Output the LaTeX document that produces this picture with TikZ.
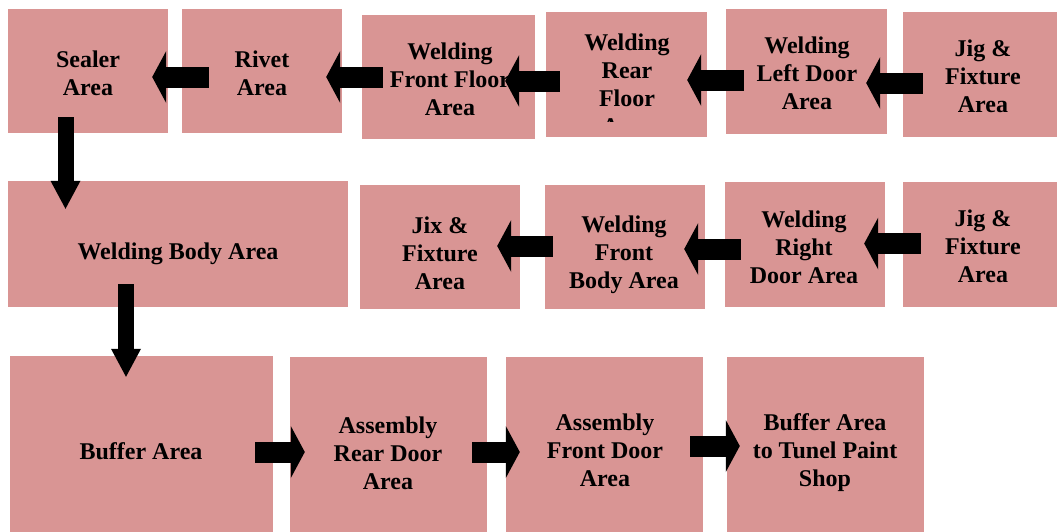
\documentclass[tikz,border=0pt]{standalone}
\usepackage{fontspec}
\setmainfont{Liberation Serif}
\usetikzlibrary{arrows.meta,calc}
\definecolor{boxc}{HTML}{D99594}
\tikzset{
  box/.style={rectangle, fill=boxc, draw=none, inner sep=0pt},
  txt/.style={align=center, inner sep=0pt, font=\fontsize{24}{28}\selectfont\bfseries,
              execute at begin node=\strut, execute at end node=\strut},
  harrow/.style={draw=black, line width=21pt, line cap=butt,
                 -{Triangle[length=14pt,width=52pt,line width=0pt]}},
  varrow/.style={draw=black, line width=16pt, line cap=butt,
                 -{Triangle[length=28pt,width=30pt,line width=0pt]}}
}
\begin{document}
\begin{tikzpicture}[x=1pt,y=-1pt]
\useasboundingbox (0,0) rectangle (1057,531);
% row 1
\node[box, minimum width=160pt, minimum height=124pt] (sealer) at (88,71) {};
\node[box, minimum width=160pt, minimum height=124pt] (rivet) at (262,71) {};
\node[box, minimum width=173pt, minimum height=124pt] (wff) at (448.5,77) {};
\node[box, minimum width=161pt, minimum height=125pt] (wrf) at (626.5,74.5) {};
\node[box, minimum width=161pt, minimum height=125pt] (wld) at (806.5,71.5) {};
\node[box, minimum width=160pt, minimum height=125pt] (jig1) at (983,74.5) {};
% row 2
\node[box, minimum width=340pt, minimum height=126pt] (wba) at (178,244) {};
\node[box, minimum width=160pt, minimum height=124pt] (jix) at (440,247) {};
\node[box, minimum width=160pt, minimum height=124pt] (wfb) at (625,247) {};
\node[box, minimum width=160pt, minimum height=125pt] (wrd) at (805,244.5) {};
\node[box, minimum width=160pt, minimum height=125pt] (jig2) at (983,244.5) {};
% row 3
\node[box, minimum width=263pt, minimum height=184pt] (buf) at (141.5,448) {};
\node[box, minimum width=197pt, minimum height=183pt] (ard) at (388.5,448.5) {};
\node[box, minimum width=197pt, minimum height=183pt] (afd) at (604.5,448.5) {};
\node[box, minimum width=197pt, minimum height=183pt] (bps) at (825.5,448.5) {};
% texts
\node[txt] (tsealer) at (88,77.4) {Sealer\\Area};
\node[txt] (trivet) at (262,77.4) {Rivet\\Area};
\node[txt] (twff) at (450,83.4) {Welding\\Front Floor\\Area};
\begin{scope}
\clip (546,12) rectangle (707,121.5);
\node[txt] (twrf) at (627,88.4) {Welding\\Rear\\Floor\\Area};
\end{scope}
\node[txt] (twld) at (807,77.4) {Welding\\Left Door\\Area};
\node[txt] (tjig1) at (983,80.4) {Jig \&\\Fixture\\Area};
\node[txt] (twba) at (178,253.4) {Welding Body Area};
\node[txt] (tjix) at (440,256.9) {Jix \&\\Fixture\\Area};
\node[txt] (twfb) at (624,255.9) {Welding\\Front\\Body Area};
\node[txt] (twrd) at (804,250.9) {Welding\\Right\\Door Area};
\node[txt] (tjig2) at (983,250.4) {Jig \&\\Fixture\\Area};
\node[txt] (tbuf) at (141,453.9) {Buffer Area};
\node[txt] (tard) at (388,457.4) {Assembly\\Rear Door\\Area};
\node[txt] (tafd) at (605,453.9) {Assembly\\Front Door\\Area};
\node[txt] (tbps) at (825,453.9) {Buffer Area\\to Tunel Paint\\Shop};
% connectors
\draw[harrow] ($(rivet.west)+(27,6)$) -- ($(sealer.east)+(-16,6)$);
\draw[harrow] ($(wff.west)+(21,0)$) -- ($(rivet.east)+(-16,6)$);
\draw[harrow] ($(wrf.west)+(14,6.5)$) -- ($(wff.east)+(-30,4)$);
\draw[harrow] ($(wld.west)+(18,8.5)$) -- ($(wrf.east)+(-20,5.5)$);
\draw[harrow] ($(jig1.west)+(20,8.5)$) -- ($(wld.east)+(-21,11.5)$);
\draw[varrow] ($(sealer.south)+(-22.5,-16)$) -- ($(wba.north)+(-112.5,28)$);
\draw[harrow] ($(jig2.west)+(18,-1)$) -- ($(wrd.east)+(-21,-1)$);
\draw[harrow] ($(wrd.west)+(16,4.5)$) -- ($(wfb.east)+(-21,2)$);
\draw[harrow] ($(wfb.west)+(8,-1)$) -- ($(jix.east)+(-23,-1)$);
\draw[varrow] ($(wba.south)+(-52,-23)$) -- ($(buf.north)+(-15.5,21)$);
\draw[harrow] ($(buf.east)+(-18,4)$) -- ($(ard.west)+(15,3.5)$);
\draw[harrow] ($(ard.east)+(-15,3.5)$) -- ($(afd.west)+(14,3.5)$);
\draw[harrow] ($(afd.east)+(-13,-2.5)$) -- ($(bps.west)+(13,-2.5)$);
\end{tikzpicture}
\end{document}
